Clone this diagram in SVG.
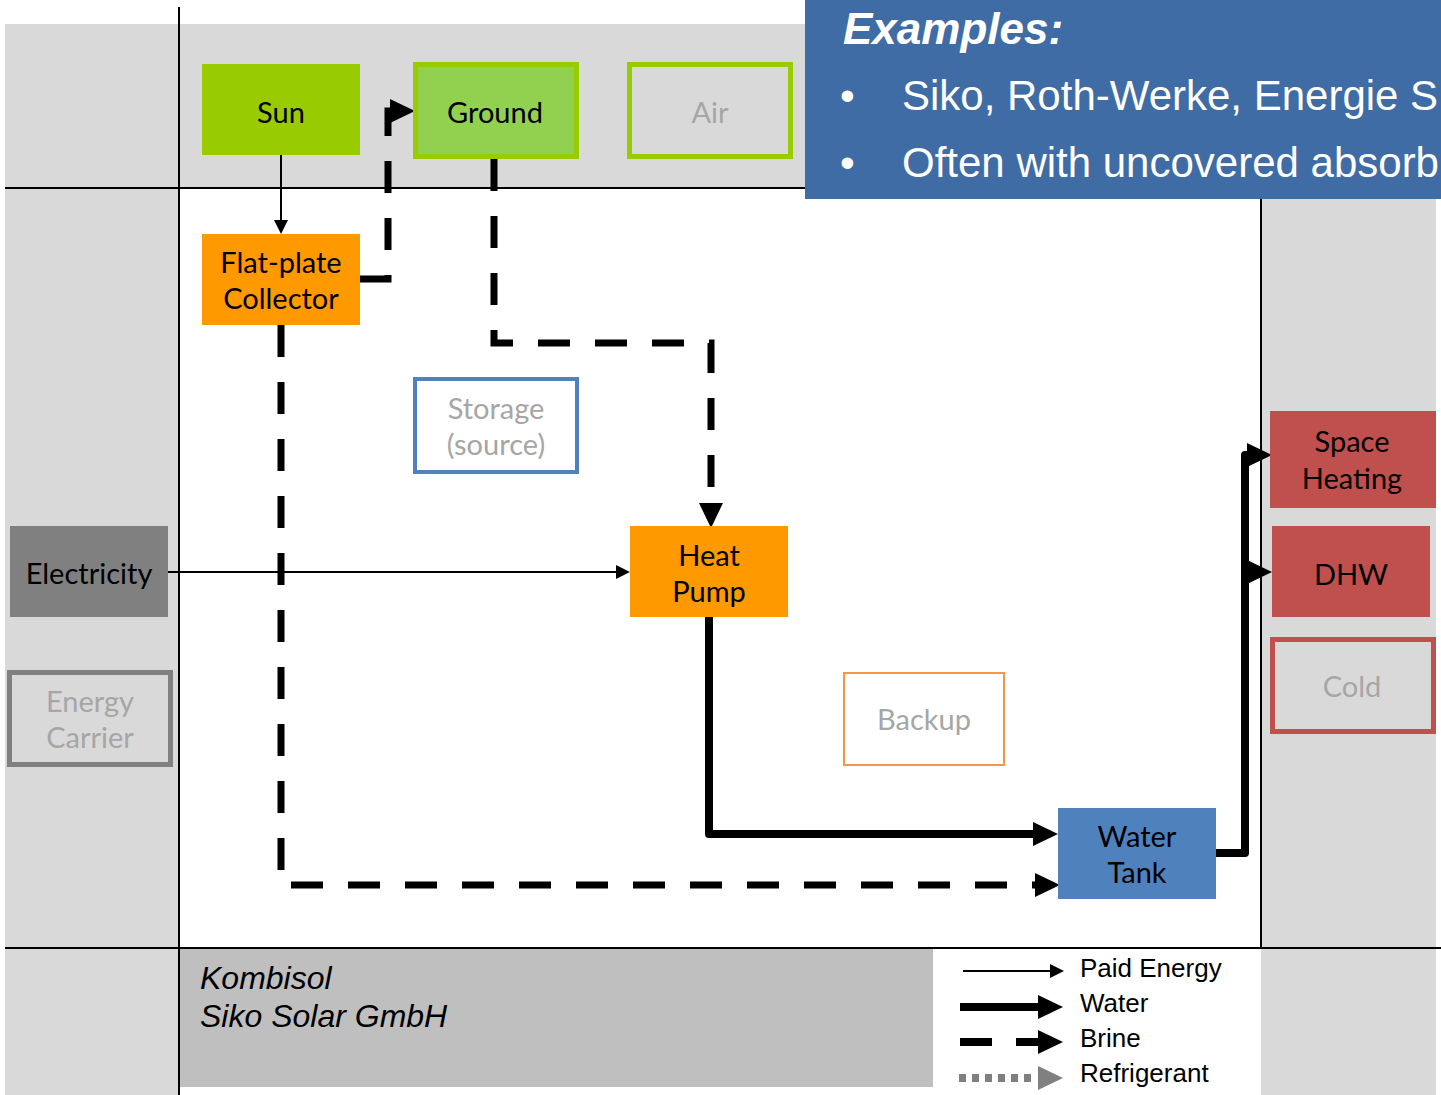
<svg xmlns="http://www.w3.org/2000/svg" width="1441" height="1095" viewBox="0 0 1441 1095">
<style>
.n{font-family:Lato,"Open Sans","Liberation Sans",sans-serif;font-size:29px;text-anchor:middle;fill:#000}
.g{fill:#A6A6A6}
.a{font-family:"Liberation Sans",Arial,sans-serif}
.grid{stroke:#000;stroke-width:2;fill:none}
.thin{stroke:#000;stroke-width:2;fill:none}
.water{stroke:#000;stroke-width:8;fill:none;stroke-linejoin:round}
.brine{stroke:#000;stroke-width:7;fill:none;stroke-dasharray:32 25}
</style>
<defs>
<marker id="aThin" markerUnits="userSpaceOnUse" viewBox="0 0 14 14" markerWidth="14" markerHeight="14" refX="0" refY="7" orient="auto"><path d="M0,0 L14,7 L0,14 Z" fill="#000"/></marker>
<marker id="aThick" markerUnits="userSpaceOnUse" viewBox="0 0 25 24" markerWidth="25" markerHeight="24" refX="0" refY="12" orient="auto"><path d="M0,0 L25,12 L0,24 Z" fill="#000"/></marker>
<marker id="aGray" markerUnits="userSpaceOnUse" viewBox="0 0 25 24" markerWidth="25" markerHeight="24" refX="0" refY="12" orient="auto"><path d="M0,0 L25,12 L0,24 Z" fill="#808080"/></marker>
</defs>
<rect width="1441" height="1095" fill="#fff"/>
<g id="background">
<rect x="5" y="24" width="1431" height="1071" fill="#D9D9D9"/>
<rect x="180" y="188" width="1081" height="760" fill="#fff"/>
<rect x="933" y="949" width="328" height="146" fill="#fff"/>
<rect x="180" y="1087" width="753" height="8" fill="#fff"/>
<rect x="180" y="949" width="753" height="138" fill="#BFBFBF"/>
<line class="grid" x1="179" y1="7" x2="179" y2="1095"/>
<line class="grid" x1="5" y1="188" x2="810" y2="188"/>
<line class="grid" x1="5" y1="948" x2="1441" y2="948"/>
<line class="grid" x1="1261" y1="195" x2="1261" y2="948"/>
</g>
<g id="caption">
<text class="a" x="200" y="989" font-size="32" font-style="italic">Kombisol</text>
<text class="a" x="200" y="1027" font-size="32" font-style="italic">Siko Solar GmbH</text>
</g>
<g id="examples">
<rect x="805" y="0" width="636" height="199" fill="#3F6CA5"/>
<text class="a" x="843" y="44" font-size="44" font-weight="bold" font-style="italic" fill="#fff">Examples:</text>
<text class="a" x="840" y="110" font-size="42" fill="#fff">•</text>
<text class="a" x="902" y="110" font-size="42" fill="#fff">Siko, Roth-Werke, Energie S</text>
<text class="a" x="840" y="177" font-size="42" fill="#fff">•</text>
<text class="a" x="902" y="177" font-size="42" fill="#fff">Often with uncovered absorb</text>
</g>
<g id="connectors">
<path class="thin" d="M281,155 V220" marker-end="url(#aThin)"/>
<path class="thin" d="M168,572 H616" marker-end="url(#aThin)"/>
<path class="brine" d="M360,279 H388 V111 H390" marker-end="url(#aThick)"/>
<path class="brine" d="M494,159 V343 H711 V503" marker-end="url(#aThick)"/>
<path class="brine" d="M281,325 V885 H1035" marker-end="url(#aThick)"/>
<path class="water" d="M709,617 V834 H1033" marker-end="url(#aThick)"/>
<path class="water" d="M1216,853 H1245 V455 H1247" marker-end="url(#aThick)"/>
<path class="water" d="M1245,572 H1247" marker-end="url(#aThick)"/>
</g>
<g id="sun"><rect x="202" y="64" width="158" height="91" fill="#99CC00"/><text class="n" x="281" y="123">Sun</text></g>
<g id="ground"><rect x="415.5" y="64.5" width="161" height="92" fill="#92D050" stroke="#99CC00" stroke-width="5"/><text class="n" x="495" y="123">Ground</text></g>
<g id="air"><rect x="629.5" y="64.5" width="161" height="92" fill="#D9D9D9" stroke="#99CC00" stroke-width="5"/><text class="n g" x="710" y="123">Air</text></g>
<g id="collector"><rect x="202" y="234" width="158" height="91" fill="#FF9900"/><text class="n" x="281" y="273">Flat-plate</text><text class="n" x="281" y="309">Collector</text></g>
<g id="storage"><rect x="415" y="379" width="162" height="93" fill="#fff" stroke="#4F81BD" stroke-width="4"/><text class="n g" x="496" y="419">Storage</text><text class="n g" x="496" y="455">(source)</text></g>
<g id="electricity"><rect x="10" y="526" width="158" height="91" fill="#808080"/><text class="n" x="89" y="584">Electricity</text></g>
<g id="energy-carrier"><rect x="9.5" y="672.5" width="161" height="92" fill="#D9D9D9" stroke="#808080" stroke-width="5"/><text class="n g" x="90" y="712">Energy</text><text class="n g" x="90" y="748">Carrier</text></g>
<g id="heat-pump"><rect x="630" y="526" width="158" height="91" fill="#FF9900"/><text class="n" x="709" y="566">Heat</text><text class="n" x="709" y="602">Pump</text></g>
<g id="backup"><rect x="844" y="673" width="160" height="92" fill="#fff" stroke="#F79646" stroke-width="2"/><text class="n g" x="924" y="730">Backup</text></g>
<g id="water-tank"><rect x="1058" y="808" width="158" height="91" fill="#4F81BD"/><text class="n" x="1137" y="847">Water</text><text class="n" x="1137" y="883">Tank</text></g>
<g id="space-heating"><rect x="1270" y="411" width="166" height="97" fill="#C0504D"/><text class="n" x="1352" y="452">Space</text><text class="n" x="1352" y="489">Heating</text></g>
<g id="dhw"><rect x="1272" y="526" width="158" height="91" fill="#C0504D"/><text class="n" x="1351" y="585">DHW</text></g>
<g id="cold"><rect x="1272.5" y="639.5" width="161" height="92" fill="#D9D9D9" stroke="#C0504D" stroke-width="5"/><text class="n g" x="1352" y="697">Cold</text></g>
<g id="legend">
<path class="thin" d="M963,971 H1050" marker-end="url(#aThin)"/>
<path stroke="#000" stroke-width="8" fill="none" d="M960,1007 H1038" marker-end="url(#aThick)"/>
<path stroke="#000" stroke-width="8" fill="none" d="M960,1042 H992 M1016,1042 H1040" />
<path stroke="none" fill="none" d="M1030,1042 H1038" marker-end="url(#aThick)"/>
<path stroke="#808080" stroke-width="8" fill="none" stroke-dasharray="7 6" d="M959,1078 H1036"/>
<path stroke="none" fill="none" d="M1030,1078 H1038" marker-end="url(#aGray)"/>
<text class="a" x="1080" y="977" font-size="26">Paid Energy</text>
<text class="a" x="1080" y="1012" font-size="26">Water</text>
<text class="a" x="1080" y="1047" font-size="26">Brine</text>
<text class="a" x="1080" y="1082" font-size="26">Refrigerant</text>
</g>
</svg>
